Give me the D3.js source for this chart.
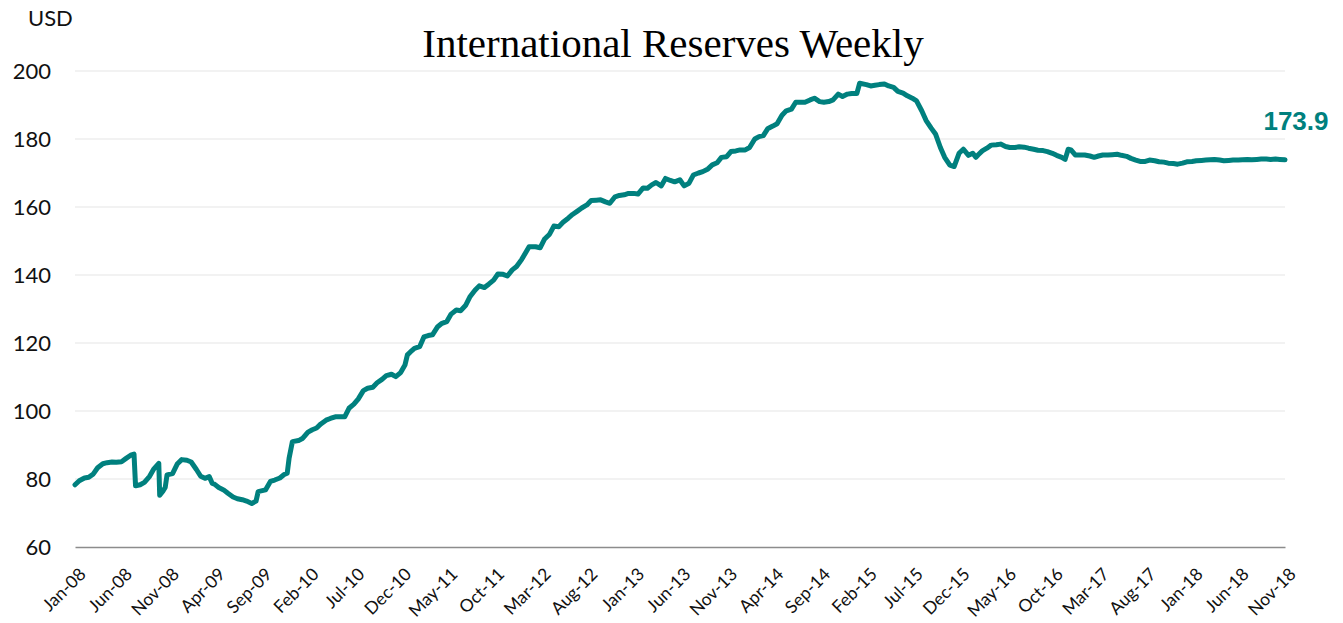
<!DOCTYPE html>
<html>
<head>
<meta charset="utf-8">
<script src="https://cdn.jsdelivr.net/npm/d3@7/dist/d3.min.js"></script>
<style>
  body { margin: 0; background: #fff; }
</style>
</head>
<body>
<svg id="chart" width="1343" height="623"></svg>
<script>
// observation dates (roughly fortnightly, extra points where the series jumps)
const dates = [
  "2008-01-01","2008-01-15","2008-02-01","2008-02-15","2008-03-01","2008-03-15","2008-04-01","2008-04-15",
  "2008-05-01","2008-05-15","2008-06-01","2008-06-15","2008-07-01","2008-07-12","2008-07-17","2008-08-01",
  "2008-08-15","2008-09-01","2008-09-15","2008-10-01","2008-10-04","2008-10-15","2008-10-22","2008-10-28",
  "2008-11-15","2008-12-01","2008-12-15",
  "2009-01-01","2009-01-15","2009-02-01","2009-02-15","2009-03-01","2009-03-15","2009-03-25","2009-04-01",
  "2009-04-15","2009-05-01","2009-05-15","2009-06-01","2009-06-15","2009-07-01","2009-07-15","2009-08-01",
  "2009-08-15","2009-08-22","2009-09-01","2009-09-15","2009-10-01","2009-10-15","2009-11-01","2009-11-15",
  "2009-11-25","2009-12-01","2009-12-12",
  "2010-01-01","2010-01-15","2010-02-01","2010-02-15","2010-03-01","2010-03-15","2010-04-01","2010-04-15",
  "2010-05-01","2010-05-15","2010-06-01","2010-06-15","2010-07-01","2010-07-15","2010-08-01","2010-08-15",
  "2010-09-01","2010-09-15","2010-10-01","2010-10-15","2010-11-01","2010-11-15","2010-12-01","2010-12-15",
  "2010-12-23",
  "2011-01-01","2011-01-15","2011-02-01","2011-02-15","2011-03-01","2011-03-15","2011-04-01","2011-04-15",
  "2011-05-01","2011-05-15","2011-06-01","2011-06-15","2011-07-01","2011-07-15","2011-08-01","2011-08-15",
  "2011-09-01","2011-09-15","2011-10-01","2011-10-15","2011-11-01","2011-11-15","2011-12-01","2011-12-15",
  "2012-01-01","2012-01-25","2012-02-15","2012-03-01","2012-03-15","2012-04-01","2012-04-15","2012-05-01",
  "2012-05-15","2012-06-01","2012-06-15","2012-07-01","2012-07-15","2012-08-01","2012-08-15","2012-09-01",
  "2012-09-15","2012-10-01","2012-10-15","2012-11-01","2012-11-15","2012-12-01","2012-12-15",
  "2013-01-01","2013-01-15","2013-02-01","2013-02-15","2013-03-01","2013-03-15","2013-04-01","2013-04-15",
  "2013-05-01","2013-05-15","2013-06-01","2013-06-15","2013-07-01","2013-07-15","2013-08-01","2013-08-15",
  "2013-09-01","2013-09-15","2013-10-01","2013-10-15","2013-11-01","2013-11-15","2013-12-01","2013-12-15",
  "2014-01-01","2014-01-15","2014-02-01","2014-02-15","2014-03-01","2014-03-15","2014-04-01","2014-04-15",
  "2014-05-01","2014-05-15","2014-06-01","2014-06-15","2014-07-01","2014-07-15","2014-08-01","2014-08-15",
  "2014-09-01","2014-09-15","2014-10-01","2014-10-15","2014-11-01","2014-11-15","2014-12-01","2014-12-15",
  "2015-01-01","2015-01-10","2015-02-01","2015-02-15","2015-03-01","2015-03-15","2015-04-01","2015-04-15",
  "2015-05-01","2015-05-15","2015-06-01","2015-06-15","2015-07-01","2015-07-15","2015-08-01","2015-08-15",
  "2015-09-01","2015-09-15","2015-10-01","2015-10-15","2015-11-01","2015-11-15","2015-12-01","2015-12-15",
  "2016-01-01","2016-01-15","2016-01-25","2016-02-01","2016-02-15","2016-03-01","2016-03-15","2016-04-01",
  "2016-04-15","2016-05-01","2016-05-15","2016-06-01","2016-06-15","2016-07-01","2016-07-15","2016-08-01",
  "2016-08-15","2016-09-01","2016-09-15","2016-10-01","2016-10-15","2016-11-01","2016-11-12","2016-11-22",
  "2016-12-01","2016-12-15",
  "2017-01-01","2017-01-15","2017-02-01","2017-02-15","2017-03-01","2017-03-15","2017-04-01","2017-04-15",
  "2017-05-01","2017-05-15","2017-06-01","2017-06-15","2017-07-01","2017-07-15","2017-08-01","2017-08-15",
  "2017-09-01","2017-09-15","2017-10-01","2017-10-15","2017-11-01","2017-11-15","2017-12-01","2017-12-15",
  "2018-01-01","2018-01-15","2018-02-01","2018-02-15","2018-03-01","2018-03-15","2018-04-01","2018-04-15",
  "2018-05-01","2018-05-15","2018-06-01","2018-06-15","2018-07-01","2018-07-15","2018-08-01","2018-08-15",
  "2018-09-01","2018-09-15","2018-10-01","2018-10-15","2018-11-01"
];

// international reserves, USD bn
const reserves = [
  78.3, 79.5, 80.3, 80.5, 81.5, 83.3, 84.5, 84.8,
  85.0, 84.9, 85.1, 86.0, 87.0, 87.3, 78.0, 78.3,
  79.0, 80.8, 83.0, 84.6, 75.2, 76.5, 77.5, 81.2,
  81.6, 84.5, 85.7,
  85.5, 85.0, 82.8, 80.8, 80.2, 80.7, 78.7, 78.5,
  77.5, 76.8, 75.8, 74.7, 74.2, 73.9, 73.5, 72.8,
  73.5, 76.3, 76.5, 76.8, 79.3, 79.7, 80.3, 81.3,
  81.7, 86.0, 91.0,
  91.3, 92.0, 93.8, 94.5, 95.0, 96.2, 97.3, 97.8,
  98.3, 98.3, 98.3, 100.8, 102.0, 103.5, 106.0, 106.7,
  107.0, 108.3, 109.3, 110.4, 110.8, 110.1, 111.3, 113.5,
  116.5,
  117.3, 118.4, 118.9, 121.8, 122.2, 122.4, 124.8, 125.8,
  126.3, 128.5, 129.7, 129.5, 131.0, 133.5, 135.5, 136.8,
  136.3, 137.3, 138.5, 140.3, 140.2, 139.7, 141.5, 142.5,
  144.6, 148.3, 148.3, 148.0, 150.5, 152.0, 154.4, 154.2,
  155.5, 156.7, 157.8, 158.8, 159.7, 160.6, 161.9, 162.0,
  162.1, 161.5, 161.1, 163.0, 163.4, 163.6, 164.0,
  164.0, 163.8, 165.6, 165.5, 166.5, 167.2, 166.2, 168.4,
  167.8, 167.4, 168.0, 166.2, 167.0, 169.4, 170.0, 170.4,
  171.2, 172.4, 173.0, 174.6, 174.8, 176.3, 176.5, 176.8,
  176.8, 177.5, 180.0, 180.7, 181.0, 183.0, 183.8, 184.5,
  187.0, 188.3, 188.8, 190.8, 190.8, 190.8, 191.5, 192.0,
  191.0, 190.8, 191.0, 191.5, 193.2, 192.5, 193.2, 193.4,
  193.4, 196.4, 196.0, 195.6, 195.8, 196.0, 196.2, 195.6,
  195.2, 194.0, 193.5, 192.7, 192.0, 191.2, 188.3, 185.5,
  183.2, 181.5, 177.5, 174.6, 172.3, 171.9, 175.8, 177.0,
  175.2, 175.8, 174.6, 175.3, 176.5, 177.3, 178.2, 178.3,
  178.5, 177.8, 177.5, 177.5, 177.7, 177.6, 177.3, 177.0,
  176.7, 176.6, 176.3, 175.8, 175.2, 174.6, 174.0, 177.0,
  176.8, 175.3,
  175.3, 175.3, 175.0, 174.6, 175.0, 175.3, 175.3, 175.4,
  175.5, 175.2, 174.9, 174.3, 173.8, 173.4, 173.4, 173.8,
  173.6, 173.3, 173.2, 172.9, 172.8, 172.6, 172.9, 173.3,
  173.4, 173.6, 173.7, 173.8, 173.9, 174.0, 173.8, 173.6,
  173.7, 173.8, 173.8, 173.9, 174.0, 173.9, 174.0, 174.1,
  174.1, 174.0, 174.1, 174.0, 173.9
];

const tickLabels = [
  "Jan-08","Jun-08","Nov-08","Apr-09","Sep-09","Feb-10","Jul-10","Dec-10","May-11",
  "Oct-11","Mar-12","Aug-12","Jan-13","Jun-13","Nov-13","Apr-14","Sep-14","Feb-15",
  "Jul-15","Dec-15","May-16","Oct-16","Mar-17","Aug-17","Jan-18","Jun-18","Nov-18"
];
const yTicks = [60, 80, 100, 120, 140, 160, 180, 200];
const lastLabel = "173.9";

const lineColor = "#00807e";

const svg = d3.select("#chart");
const margin = {left: 75, right: 58, top: 71, bottom: 76};
const width = 1343, height = 623;

const parseDate = d3.timeParse("%Y-%m-%d");
const parseTick = d3.timeParse("%b-%y");

const series = dates.map((d, i) => ({date: parseDate(d), value: reserves[i]}));

const x = d3.scaleTime()
    .domain([parseTick(tickLabels[0]), parseTick(tickLabels[tickLabels.length - 1])])
    .range([margin.left, width - margin.right]);

const y = d3.scaleLinear()
    .domain([60, 200])
    .range([height - margin.bottom, margin.top]);

//Gridlines
svg.append("g")
    .selectAll("line")
    .data(yTicks.filter(t => t > 60))
    .join("line")
      .attr("x1", margin.left)
      .attr("x2", width - margin.right)
      .attr("y1", d => y(d))
      .attr("y2", d => y(d))
      .attr("stroke", "#eeeeee")
      .attr("stroke-width", 1.5);

//Y axis labels (no axis line in the original)
const yAxis = svg.append("g")
    .attr("transform", `translate(${margin.left},0)`)
    .call(d3.axisLeft(y).tickValues(yTicks).tickSize(0).tickPadding(24));
yAxis.select(".domain").remove();
yAxis.selectAll("text")
    .attr("font-family", "Lato, 'Open Sans', sans-serif")
    .attr("font-size", 22)
    .attr("fill", "#111");

//X axis
const xAxis = svg.append("g")
    .attr("transform", `translate(0,${y(60)})`)
    .call(d3.axisBottom(x)
        .tickValues(tickLabels.map(parseTick))
        .tickFormat(d3.timeFormat("%b-%y"))
        .tickSize(0));
xAxis.select(".domain")
    .attr("stroke", "#8c8c8c")
    .attr("stroke-width", 1.5);
xAxis.selectAll("text")
    .attr("font-family", "Lato, 'Open Sans', sans-serif")
    .attr("font-size", 17.5)
    .attr("fill", "#111")
    .attr("text-anchor", "end")
    .attr("x", 0)
    .attr("y", 0)
    .attr("dy", "0.35em")
    .attr("transform", "translate(7,24) rotate(-45)");

//The series
const line = d3.line()
    .x(d => x(d.date))
    .y(d => y(d.value));

svg.append("path")
    .datum(series)
    .attr("fill", "none")
    .attr("stroke", lineColor)
    .attr("stroke-width", 5)
    .attr("stroke-linejoin", "round")
    .attr("stroke-linecap", "round")
    .attr("d", line);

//Last value label
const last = series[series.length - 1];
svg.append("text")
    .attr("x", x(last.date) + 11)
    .attr("y", y(last.value) - 30)
    .attr("text-anchor", "middle")
    .attr("font-family", "'Liberation Sans', Arial, sans-serif")
    .attr("font-weight", "bold")
    .attr("font-size", 26)
    .attr("fill", lineColor)
    .text(lastLabel);

//Title and unit
svg.append("text")
    .attr("x", 673)
    .attr("y", 57)
    .attr("text-anchor", "middle")
    .attr("font-family", "'Liberation Serif', 'DejaVu Serif', serif")
    .attr("font-size", 41)
    .attr("fill", "#000")
    .text("International Reserves Weekly");

svg.append("text")
    .attr("x", 28)
    .attr("y", 26)
    .attr("font-family", "Lato, 'Open Sans', sans-serif")
    .attr("font-size", 22)
    .attr("fill", "#111")
    .text("USD");
</script>
</body>
</html>
